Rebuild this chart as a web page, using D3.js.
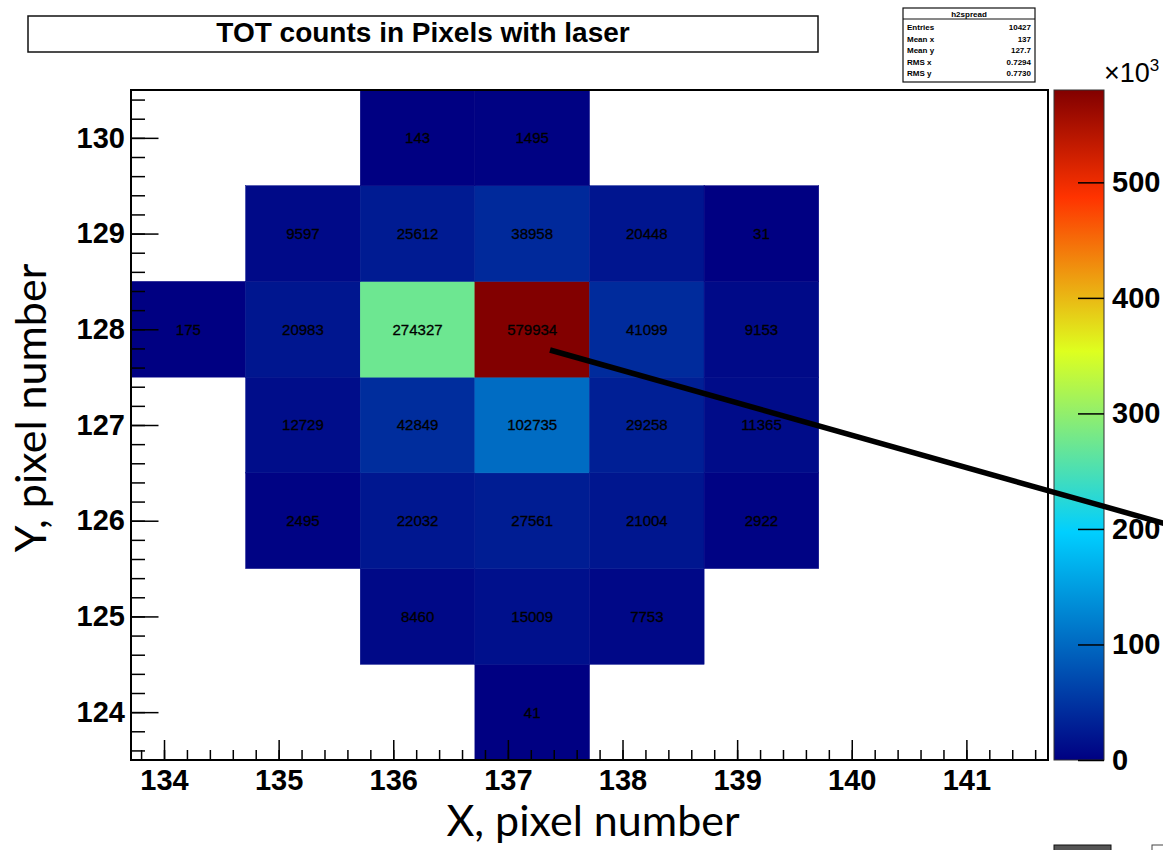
<!DOCTYPE html>
<html>
<head>
<meta charset="utf-8">
<script src="https://cdn.jsdelivr.net/npm/d3@7"></script>
<style>
  body { margin: 0; background: #fff; }
  svg { display: block; }
</style>
</head>
<body>
<svg id="chart" width="1163" height="850"></svg>
<script>
// ---- data: TOT counts per pixel (columns are x = 134..141), null = empty bin ----
const xPixels = [134, 135, 136, 137, 138, 139, 140, 141];
const yPixels = [124, 125, 126, 127, 128, 129, 130];
const row130 = [null, null, 143, 1495, null, null, null, null];
const row129 = [null, 9597, 25612, 38958, 20448, 31, null, null];
const row128 = [175, 20983, 274327, 579934, 41099, 9153, null, null];
const row127 = [null, 12729, 42849, 102735, 29258, 11365, null, null];
const row126 = [null, 2495, 22032, 27561, 21004, 2922, null, null];
const row125 = [null, null, 8460, 15009, 7753, null, null, null];
const row124 = [null, null, null, 41, null, null, null, null];
const rowsByY = { 130: row130, 129: row129, 128: row128, 127: row127, 126: row126, 125: row125, 124: row124 };

const zTicks = [0, 100, 200, 300, 400, 500];          // colour axis labels, in units of 10^3
const statNames  = ["Entries", "Mean x", "Mean y", "RMS x", "RMS y"];
const statValues = ["10427", "137", "127.7", "0.7294", "0.7730"];
const histName = "h2spread";
const titleText = "TOT counts in Pixels with laser";

// ---- layout ----
const frame = { left: 131, right: 1048, top: 90, bottom: 760 };
const binLowOffset = 0.288;   // bin [x - 0.288, x + 0.712] in x
const narrow = "'Liberation Sans Narrow', 'Liberation Sans', Arial, sans-serif";
const svg = d3.select("#chart");

const cells = [];
yPixels.forEach(y => rowsByY[y].forEach((v, i) => {
  if (v !== null) cells.push({ x: xPixels[i], y: y, v: v });
}));

const xScale = d3.scaleLinear()
  .domain([xPixels[0] - binLowOffset, xPixels[xPixels.length - 1] + 1 - binLowOffset])
  .range([frame.left, frame.right]);
const yScale = d3.scaleLinear()
  .domain([yPixels[0] - 0.5, yPixels[yPixels.length - 1] + 0.5])
  .range([frame.bottom, frame.top]);

const zMax = d3.max(cells, d => d.v);
const paletteStops = [0.00, 0.34, 0.61, 0.84, 1.00];
const paletteColors = ["rgb(0,0,130)", "rgb(0,207,255)", "rgb(222,255,31)", "rgb(255,51,0)", "rgb(130,0,0)"];
const color = d3.scaleLinear()
  .domain(paletteStops.map(s => s * zMax))
  .range(paletteColors)
  .interpolate(d3.interpolateRgb);

// ---- title box ----
svg.append("rect")
  .attr("x", 28).attr("y", 16).attr("width", 790).attr("height", 36)
  .attr("fill", "#fff").attr("stroke", "#111").attr("stroke-width", 1.5);
svg.append("text")
  .attr("x", 423).attr("y", 42)
  .attr("text-anchor", "middle")
  .attr("font-family", narrow).attr("font-weight", "bold").attr("font-size", 28)
  .text(titleText);

// ---- statistics box ----
const stats = svg.append("g");
stats.append("rect")
  .attr("x", 903).attr("y", 8).attr("width", 132).attr("height", 74)
  .attr("fill", "#fff").attr("stroke", "#111").attr("stroke-width", 1.2);
stats.append("line")
  .attr("x1", 903).attr("x2", 1035).attr("y1", 19).attr("y2", 19)
  .attr("stroke", "#111").attr("stroke-width", 1);
stats.append("text")
  .attr("x", 969).attr("y", 17).attr("text-anchor", "middle")
  .attr("font-family", narrow).attr("font-weight", "bold").attr("font-size", 8)
  .text(histName);
statNames.forEach((n, i) => {
  const yy = 30 + i * 11.5;
  stats.append("text").attr("x", 907).attr("y", yy)
    .attr("font-family", narrow).attr("font-weight", "bold").attr("font-size", 8).text(n);
  stats.append("text").attr("x", 1031).attr("y", yy).attr("text-anchor", "end")
    .attr("font-family", narrow).attr("font-weight", "bold").attr("font-size", 8).text(statValues[i]);
});

// ---- cells ----
const cellG = svg.append("g");
cellG.selectAll("rect").data(cells).enter().append("rect")
  .attr("x", d => xScale(d.x - binLowOffset))
  .attr("y", d => yScale(d.y + 0.5))
  .attr("width", d => xScale(d.x + 1 - binLowOffset) - xScale(d.x - binLowOffset))
  .attr("height", d => yScale(d.y - 0.5) - yScale(d.y + 0.5))
  .attr("fill", d => color(d.v))
  .attr("stroke", d => color(d.v)).attr("stroke-width", 0.5);
cellG.selectAll("text").data(cells).enter().append("text")
  .attr("x", d => xScale(d.x + 0.5 - binLowOffset))
  .attr("y", d => yScale(d.y))
  .attr("dy", "0.36em")
  .attr("text-anchor", "middle")
  .attr("font-family", narrow).attr("font-size", 15)
  .attr("fill", "#000").attr("stroke", "#000").attr("stroke-width", 0.3)
  .text(d => d.v);

// ---- axes ----
const tickFont = g => g.selectAll("text")
  .attr("font-family", narrow).attr("font-weight", "bold").attr("font-size", 29).attr("fill", "#000");

const xMinor = d3.range(Math.ceil(xScale.domain()[0] * 5), Math.floor(xScale.domain()[1] * 5) + 1).map(k => k / 5);
const yMinor = d3.range(Math.ceil(yScale.domain()[0] * 5), Math.floor(yScale.domain()[1] * 5) + 1).map(k => k / 5);

svg.append("g").attr("transform", `translate(0,${frame.bottom})`)
  .call(d3.axisBottom(xScale).tickValues(xMinor).tickSizeInner(-10).tickSizeOuter(0).tickFormat(""))
  .call(g => g.select(".domain").remove())
  .call(g => g.selectAll("line").attr("stroke", "#000").attr("stroke-width", 1.5));
svg.append("g").attr("transform", `translate(0,${frame.bottom})`)
  .call(d3.axisBottom(xScale).tickValues(xPixels).tickSizeInner(-20).tickSizeOuter(0).tickPadding(9).tickFormat(d3.format("d")))
  .call(g => g.select(".domain").remove())
  .call(g => g.selectAll("line").attr("stroke", "#000").attr("stroke-width", 1.5))
  .call(tickFont);

svg.append("g").attr("transform", `translate(${frame.left},0)`)
  .call(d3.axisLeft(yScale).tickValues(yMinor).tickSizeInner(-14).tickSizeOuter(0).tickFormat(""))
  .call(g => g.select(".domain").remove())
  .call(g => g.selectAll("line").attr("stroke", "#000").attr("stroke-width", 1.5));
svg.append("g").attr("transform", `translate(${frame.left},0)`)
  .call(d3.axisLeft(yScale).tickValues(yPixels).tickSizeInner(-27.5).tickSizeOuter(0).tickPadding(6).tickFormat(d3.format("d")))
  .call(g => g.select(".domain").remove())
  .call(g => g.selectAll("line").attr("stroke", "#000").attr("stroke-width", 1.5))
  .call(tickFont);

// plot frame
svg.append("rect")
  .attr("x", frame.left).attr("y", frame.top)
  .attr("width", frame.right - frame.left).attr("height", frame.bottom - frame.top)
  .attr("fill", "none").attr("stroke", "#000").attr("stroke-width", 2);

// ---- colour bar ----
const bar = { left: 1054, right: 1104 };
const zScale = d3.scaleLinear().domain([0, zMax / 1000]).range([frame.bottom, frame.top]);
const grad = svg.append("defs").append("linearGradient")
  .attr("id", "palette").attr("x1", 0).attr("x2", 0).attr("y1", 1).attr("y2", 0);
grad.selectAll("stop").data(paletteStops).enter().append("stop")
  .attr("offset", d => d)
  .attr("stop-color", (d, i) => paletteColors[i]);
svg.append("rect")
  .attr("x", bar.left).attr("y", frame.top)
  .attr("width", bar.right - bar.left).attr("height", frame.bottom - frame.top)
  .attr("fill", "url(#palette)").attr("stroke", "#333").attr("stroke-width", 1);
svg.append("g").attr("transform", `translate(${bar.right},0)`)
  .call(d3.axisRight(zScale).tickValues(zTicks).tickSizeInner(-26).tickSizeOuter(0).tickPadding(8).tickFormat(d3.format("d")))
  .call(g => g.select(".domain").remove())
  .call(g => g.selectAll("line").attr("stroke", "#000").attr("stroke-width", 1.5))
  .call(tickFont);
const mult = svg.append("text")
  .attr("x", 1104).attr("y", 82)
  .attr("font-family", narrow).attr("font-size", 27).attr("fill", "#000");
mult.append("tspan").text("\u00d710");
mult.append("tspan").attr("dy", -11).attr("font-size", 17).text("3");

// ---- axis titles ----
svg.append("text")
  .attr("x", 593).attr("y", 836).attr("text-anchor", "middle")
  .attr("font-family", "Lato, 'Open Sans', sans-serif").attr("font-size", 43)
  .text("X, pixel number");
svg.append("text")
  .attr("transform", "translate(46,408) rotate(-90)")
  .attr("text-anchor", "middle")
  .attr("font-family", "Lato, 'Open Sans', sans-serif").attr("font-size", 43)
  .text("Y, pixel number");

// ---- pointer line from the peak pixel ----
svg.append("line")
  .attr("x1", 550).attr("y1", 350).attr("x2", 1170).attr("y2", 525)
  .attr("stroke", "#000").attr("stroke-width", 5.5);

// cut-off window controls along the bottom edge
svg.append("rect").attr("x", 1054).attr("y", 845).attr("width", 57).attr("height", 8)
  .attr("fill", "#555").attr("stroke", "#111");
svg.append("rect").attr("x", 1152).attr("y", 845).attr("width", 14).attr("height", 8)
  .attr("fill", "none").attr("stroke", "#444");
</script>
</body>
</html>
